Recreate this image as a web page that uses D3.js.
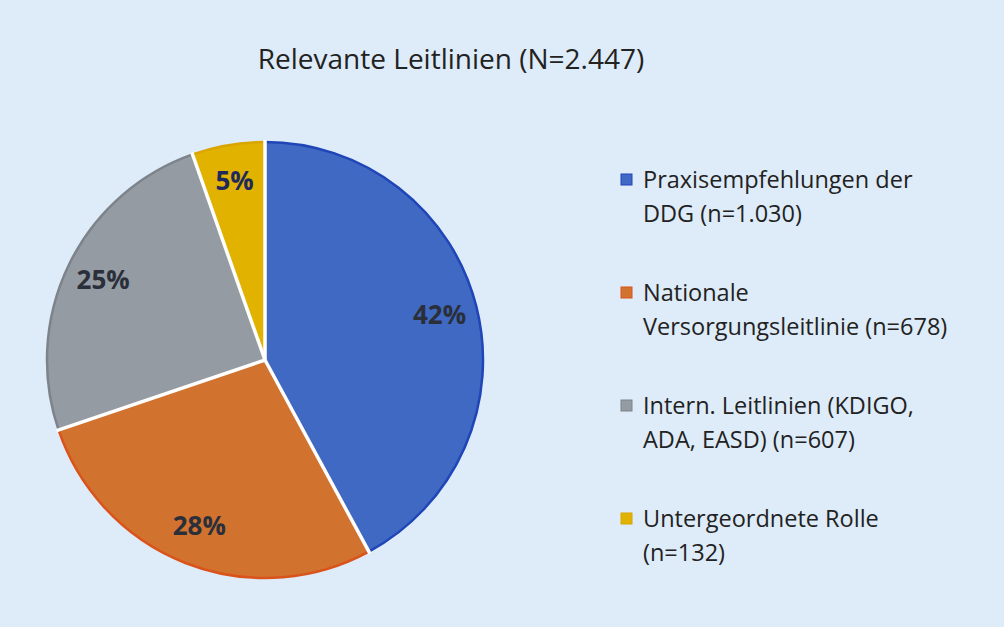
<!DOCTYPE html>
<html>
<head>
<meta charset="utf-8">
<script src="https://cdn.jsdelivr.net/npm/d3@7"></script>
<style>
  body { margin: 0; background: #deebf8; }
  svg { display: block; }
</style>
</head>
<body>
<div id="chart"></div>
<script>
const svgWidth = 1004
const svgHeight = 627

const categories = [
  ["Praxisempfehlungen der", "DDG (n=1.030)"],
  ["Nationale", "Versorgungsleitlinie (n=678)"],
  ["Intern. Leitlinien (KDIGO,", "ADA, EASD) (n=607)"],
  ["Untergeordnete Rolle", "(n=132)"]
]
const counts = [1030, 678, 607, 132]
const pctLabels = ["42%", "28%", "25%", "5%"]
const colors = ["#3f69c2", "#d2722f", "#959ba3", "#e2b200"]
const edgeColors = ["#1f45b8", "#d9531b", "#7d838a", "#d9a600"]

const cx = 265, cy = 360, r = 218
const font = "'Open Sans', 'Noto Sans', sans-serif"

const svg = d3.select("#chart").append("svg")
  .attr("width", svgWidth)
  .attr("height", svgHeight)

svg.append("rect").attr("width", svgWidth).attr("height", svgHeight).attr("fill", "#deebf8")

svg.append("text")
  .attr("x", 451).attr("y", 69)
  .attr("text-anchor", "middle")
  .attr("font-family", font)
  .attr("font-size", 28)
  .attr("fill", "#222")
  .text("Relevante Leitlinien (N=2.447)")

const pie = d3.pie().sort(null)(counts)
const arc = d3.arc().innerRadius(0).outerRadius(r)
const labelArc = d3.arc().innerRadius(180).outerRadius(180)

const pieG = svg.append("g").attr("transform", `translate(${cx}, ${cy})`)

pieG.selectAll("path.slice")
  .data(pie)
  .enter()
  .append("path")
  .attr("class", "slice")
  .attr("d", arc)
  .attr("fill", (d, i) => colors[i])
  .attr("stroke", (d, i) => edgeColors[i])
  .attr("stroke-width", 2.5)

// white separators between slices
pieG.selectAll("line.sep")
  .data(pie)
  .enter()
  .append("line")
  .attr("class", "sep")
  .attr("x1", 0).attr("y1", 0)
  .attr("x2", d => Math.sin(d.startAngle) * (r + 2))
  .attr("y2", d => -Math.cos(d.startAngle) * (r + 2))
  .attr("stroke", "#ffffff")
  .attr("stroke-width", 3.5)

pieG.selectAll("text.pct")
  .data(pie)
  .enter()
  .append("text")
  .attr("class", "pct")
  .attr("transform", d => `translate(${labelArc.centroid(d)})`)
  .attr("text-anchor", "middle")
  .attr("dy", "0.3em")
  .attr("font-family", font)
  .attr("font-weight", "bold")
  .attr("font-size", 26)
  .attr("fill", (d, i) => i === 3 ? "#1f2a5c" : "#2a2f3a")
  .text((d, i) => pctLabels[i])

const legend = svg.append("g").attr("transform", "translate(621, 0)")

const items = legend.selectAll("g.item")
  .data(categories)
  .enter()
  .append("g")
  .attr("class", "item")
  .attr("transform", (d, i) => `translate(0, ${180 + i * 113})`)

items.append("rect")
  .attr("x", 0).attr("y", -6)
  .attr("width", 11).attr("height", 11)
  .attr("fill", (d, i) => colors[i])
  .attr("stroke", (d, i) => edgeColors[i])
  .attr("stroke-width", 1)

items.append("text")
  .attr("x", 22)
  .attr("font-family", font)
  .attr("font-size", 23.5)
  .attr("fill", "#222")
  .selectAll("tspan")
  .data(d => d)
  .enter()
  .append("tspan")
  .attr("x", 22)
  .attr("y", (d, j) => 8 + j * 34)
  .text(d => d)
</script>
</body>
</html>
